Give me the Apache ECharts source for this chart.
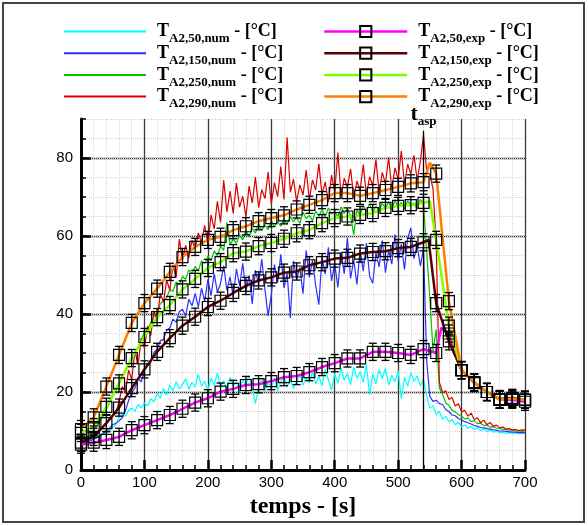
<!DOCTYPE html>
<html><head><meta charset="utf-8">
<script src="https://cdn.jsdelivr.net/npm/echarts@6/dist/echarts.min.js"></script>
<style>html,body{margin:0;padding:0;background:#fff}#c{width:588px;height:526px}</style>
</head><body><div id="c"></div>
<script>
// ---------- DATA ----------
const TIME_NUM = [0,5,10,15,20,25,30,35,40,45,50,55,60,65,70,75,80,85,90,95,
100,105,110,115,120,125,130,135,140,145,150,155,160,165,170,175,180,185,190,195,
200,205,210,215,220,225,230,235,240,245,250,255,260,265,270,275,280,285,290,295,
300,305,310,315,320,325,330,335,340,345,350,355,360,365,370,375,380,385,390,395,
400,405,410,415,420,425,430,435,440,445,450,455,460,465,470,475,480,485,490,495,
500,505,510,515,520,525,530,535,540,545,550,555,560,565,570,575,580,585,590,595,
600,605,610,615,620,625,630,635,640,645,650,655,660,665,670,675,680,685,690,695,700];

const T50_NUM = [7.0,7.1,7.3,7.6,8.0,8.3,8.7,9.1,9.6,10.2,
10.9,11.6,13.5,14.3,13.8,15.2,15.9,15.1,16.8,15.9,
17.2,16.4,18.3,17.5,19.6,18.4,20.9,19.2,21.8,20.3,
22.6,20.8,21.9,23.4,20.7,22.5,21.3,24.6,21.5,22.8,
20.4,23.6,21.7,24.9,21.2,22.9,20.6,23.8,21.5,22.6,
19.8,23.1,21.9,24.2,20.8,17.0,21.4,23.5,20.2,22.3,
21.0,23.7,20.3,22.6,24.1,21.3,23.2,20.9,22.8,24.5,
21.7,23.6,22.4,25.3,22.1,24.0,21.6,25.8,23.2,20.5,
24.7,22.3,26.1,23.0,24.8,21.9,26.4,23.5,25.2,22.4,
27.0,19.3,24.6,22.1,25.7,23.4,26.2,21.8,24.3,22.6,
25.4,18.3,23.8,21.5,24.9,22.7,24.1,21.6,23.2,19.0,
15.8,16.5,14.2,15.1,13.0,13.8,12.3,12.9,11.6,12.2,
11.1,11.5,10.7,11.2,10.4,10.8,10.1,10.5,9.9,10.2,
9.7,9.9,9.6,9.7,9.4,9.6,9.3,9.5,9.3,9.4,
9.4];

const T150_NUM = [7.0,7.1,7.3,7.5,7.9,8.3,8.8,9.4,10.1,10.8,
11.6,12.0,12.6,13.4,15.2,17.8,19.9,21.0,23.4,22.6,
25.5,26.8,27.6,30.2,30.9,33.1,33.5,35.8,36.4,38.7,
37.9,40.6,41.2,39.5,43.8,42.1,45.3,41.8,46.6,43.2,
48.9,44.7,50.3,45.6,47.8,52.4,46.1,49.5,44.3,51.6,
47.2,53.0,45.8,49.9,42.6,51.2,47.5,54.1,46.3,39.5,
44.9,52.7,48.1,55.3,46.7,50.4,39.0,53.6,48.8,51.9,
45.2,56.3,49.4,53.8,47.3,42.4,54.6,50.2,57.1,48.5,
52.9,46.8,55.7,50.3,59.6,49.1,53.8,47.6,56.4,51.0,
58.2,49.7,47.9,55.8,52.1,58.9,50.6,56.3,52.8,60.4,
53.5,57.9,51.4,59.3,62.1,54.2,57.6,52.3,56.8,28.0,
18.8,17.6,17.9,17.0,16.8,15.5,15.0,14.1,13.9,13.2,
12.9,12.4,12.1,11.8,11.4,11.2,10.9,10.8,10.6,10.5,
10.3,10.2,10.0,10.0,9.9,9.8,9.7,9.7,9.6,9.6,
9.5];

const T250_NUM = [8.0,8.2,8.6,9.3,10.2,11.3,12.6,14.0,15.6,17.2,
18.9,20.5,22.3,23.8,25.6,26.9,28.7,30.1,31.4,33.6,
35.2,36.0,37.9,39.3,40.2,42.6,43.5,44.1,46.3,45.8,
48.2,47.5,49.6,48.9,51.3,50.4,52.2,51.0,53.7,52.9,
54.8,53.6,56.2,54.9,57.4,56.3,63.5,57.8,59.2,58.1,
60.3,59.0,61.4,59.8,62.0,60.7,63.2,61.5,62.8,61.6,
64.0,62.3,63.7,62.5,64.4,63.1,65.0,63.6,64.8,63.2,
66.1,64.5,65.3,63.9,66.4,65.0,66.8,64.7,67.2,65.6,
66.3,64.9,67.5,65.8,66.9,65.2,60.3,66.7,65.4,67.8,
66.2,68.3,66.0,67.6,66.5,68.4,67.1,68.8,66.7,69.2,
67.4,68.6,67.0,69.0,67.8,68.5,66.9,69.4,68.2,56.0,
44.0,30.5,36.0,21.0,19.5,17.2,16.6,15.3,14.9,14.2,
13.8,13.1,13.3,12.4,12.6,11.9,12.0,11.4,11.5,11.0,
11.1,10.7,10.7,10.4,10.4,10.2,10.2,10.0,10.1,9.9,
10.0];

const T290_NUM = [8.0,8.1,8.3,8.6,9.0,9.6,10.4,11.3,12.2,13.0,
13.8,14.6,17.5,21.4,19.8,25.6,23.2,30.4,27.1,33.8,
31.2,36.9,34.5,40.8,38.4,45.3,43.0,48.7,46.1,52.6,
49.3,59.2,53.8,57.6,54.4,58.9,56.7,60.8,58.3,62.7,
57.9,65.4,61.8,68.9,63.5,74.3,66.2,71.5,65.8,73.6,
67.4,70.2,64.9,72.8,68.5,75.1,67.3,71.9,69.6,76.4,
68.2,73.7,70.1,77.8,69.4,85.3,71.2,74.6,68.8,73.1,
70.5,76.9,69.3,74.4,71.8,78.5,70.6,73.9,68.7,75.6,
71.3,81.4,70.2,74.8,72.5,77.2,69.9,74.1,71.6,78.3,
70.4,75.2,72.9,79.6,71.1,76.3,73.4,80.2,72.0,77.5,
74.6,81.8,73.2,78.4,75.9,80.7,74.3,79.1,86.0,76.5,
75.8,72.0,58.0,22.5,19.8,20.3,18.1,18.6,16.4,17.0,
14.9,15.3,13.8,14.6,12.9,13.4,12.1,12.8,11.6,12.2,
11.2,11.5,10.8,11.0,10.5,10.6,10.3,10.4,10.1,10.3,
10.2];

const TIME_EXP = [0,20,40,60,80,100,120,140,160,180,200,220,240,260,280,300,320,340,
360,380,400,420,440,460,480,500,520,540,560,580,600,620,640,660,680,700];
const T50_EXP = [6.5,7.0,7.7,8.5,10.2,11.5,12.8,14.1,15.7,17.3,18.4,20.1,20.8,21.8,22.0,22.8,23.8,24.1,
25.1,26.4,27.4,28.6,28.6,30.3,30.3,30.0,29.5,31.0,30.0,35.0,25.6,22.3,20.0,18.0,18.0,17.5];
const T150_EXP = [7.0,8.5,12.0,16.0,21.0,25.8,30.3,33.8,37.0,39.3,41.8,43.4,45.4,47.2,48.6,49.4,50.6,50.9,
52.5,53.3,54.2,54.4,55.5,55.9,56.1,56.9,57.2,58.4,42.8,33.0,25.6,22.5,20.0,18.2,18.5,18.0];
const T250_EXP = [9.5,11.0,16.2,22.2,28.7,34.1,39.2,42.3,46.3,49.0,51.8,53.3,55.6,56.0,57.4,58.2,59.3,60.7,
61.5,63.3,64.6,65.0,65.4,65.9,67.2,67.7,67.9,68.5,59.0,37.0,25.6,22.5,20.0,18.0,18.3,18.0];
const T290_EXP = [10.5,13.5,21.4,29.5,37.7,42.8,46.5,50.8,54.6,57.2,59.0,59.8,61.5,62.5,63.8,64.6,65.3,66.8,
68.0,69.2,71.0,71.0,70.3,71.0,71.8,72.6,73.5,73.8,76.0,43.3,25.6,22.5,20.0,18.0,18.3,18.0];
// extra points of the experimental curves between two markers (peak before the drop)
const KNOT_T = [568, 548, 550, 550];
const KNOT_V = [36.5, 59.0, 68.9, 78.8];
const EXP_ERR = 2.2;

const NUM_NAMES = ['A2,50,num','A2,150,num','A2,250,num','A2,290,num'];
const EXP_NAMES = ['A2,50,exp','A2,150,exp','A2,250,exp','A2,290,exp'];
const T_ASP = 540;
const T_ASP_TOP = 87;
const X_TICKS = [0,100,200,300,400,500,600,700];
const Y_TICKS = [0,20,40,60,80];

// ---------- STYLE ----------
const NUM_COLORS = ['#00ffff','#2e2eff','#00c400','#d80000'];
const EXP_COLORS = ['#ff00ff','#5a0000','#80ff00','#ff8000'];
const SERIF = '"Liberation Serif","DejaVu Serif",serif';
const SANS = '"Liberation Sans",Arial,sans-serif';

const NUM_VALUES = [T50_NUM, T150_NUM, T250_NUM, T290_NUM];
const EXP_VALUES = [T50_EXP, T150_EXP, T250_EXP, T290_EXP];

const series = [];
NUM_VALUES.forEach((vals, i) => {
  series.push({
    name: NUM_NAMES[i], type: 'line', symbol: 'none', showSymbol: false, z: 2,
    lineStyle: { color: NUM_COLORS[i], width: 1.2 },
    itemStyle: { color: NUM_COLORS[i] },
    data: TIME_NUM.map((t, k) => [t, vals[k]]),
    animation: false
  });
});
EXP_VALUES.forEach((vals, i) => {
  const pts = TIME_EXP.map((t, k) => ({ value: [t, vals[k]] }));
  pts.push({ value: [KNOT_T[i], KNOT_V[i]], symbol: 'none' });
  pts.sort((a, b) => a.value[0] - b.value[0]);
  series.push({
    name: EXP_NAMES[i], type: 'line', symbol: 'rect', symbolSize: 11, showAllSymbol: true, z: 3,
    lineStyle: { color: EXP_COLORS[i], width: 2.5 },
    itemStyle: { color: 'rgba(0,0,0,0)', borderColor: '#000', borderWidth: 1.2 },
    data: pts, animation: false
  });
});
const errData = [];
EXP_VALUES.forEach(vals => TIME_EXP.forEach((t, k) => errData.push([t, vals[k], vals[k] - EXP_ERR, vals[k] + EXP_ERR])));
series.push({
  type: 'custom', z: 4, silent: true, animation: false,
  encode: { x: 0, y: 1 },
  data: errData,
  renderItem(params, api) {
    const lo = api.coord([api.value(0), api.value(2)]);
    const hi = api.coord([api.value(0), api.value(3)]);
    const w = 4, st = { stroke: '#000', lineWidth: 1.3 };
    return { type: 'group', children: [
      { type: 'line', shape: { x1: lo[0], y1: lo[1], x2: hi[0], y2: hi[1] }, style: st },
      { type: 'line', shape: { x1: lo[0] - w, y1: lo[1], x2: lo[0] + w, y2: lo[1] }, style: st },
      { type: 'line', shape: { x1: hi[0] - w, y1: hi[1], x2: hi[0] + w, y2: hi[1] }, style: st }
    ]};
  }
});
// t_asp marker line
series[3].markLine = {
  silent: true, symbol: ['none', 'none'], animation: false,
  lineStyle: { color: '#000', width: 1.3, type: 'solid' },
  label: {
    show: true, position: 'end', distance: 3,
    formatter: '{t|t}{s|asp}',
    rich: {
      t: { fontFamily: SERIF, fontWeight: 'bold', fontSize: 22, lineHeight: 26, color: '#000' },
      s: { fontFamily: SERIF, fontWeight: 'bold', fontSize: 13, lineHeight: 13, verticalAlign: 'bottom', color: '#000' }
    }
  },
  data: [[{ coord: [T_ASP, 0] }, { coord: [T_ASP, T_ASP_TOP] }]]
};

const richLegend = {
  T: { fontFamily: SERIF, fontWeight: 'bold', fontSize: 18, lineHeight: 28, color: '#000', padding: [0, 0, 0, 6] },
  s: { fontFamily: SERIF, fontWeight: 'bold', fontSize: 13, lineHeight: 13, verticalAlign: 'bottom', color: '#000' },
  n: { fontFamily: SERIF, fontWeight: 'bold', fontSize: 18, lineHeight: 28, color: '#000' }
};
const legendFmt = name => '{T|T}{s|' + name + '}{n| - [°C]}';

const option = {
  backgroundColor: '#fff',
  animation: false,
  grid: { left: 81, right: 63, top: 119, bottom: 56 },
  legend: [
    { data: NUM_NAMES, orient: 'vertical', left: 64, top: 22.5, padding: 0, itemGap: -1.3,
      itemWidth: 82, itemHeight: 14, icon: 'path://M0,0H82V2H0Z',
      formatter: legendFmt, textStyle: { rich: richLegend }, selectedMode: false },
    { data: EXP_NAMES, orient: 'vertical', left: 323, top: 22.5, padding: 0, itemGap: -1.3,
      itemWidth: 83, itemHeight: 14, formatter: legendFmt, textStyle: { rich: richLegend },
      lineStyle: { width: 2.5 }, selectedMode: false }
  ],
  xAxis: {
    type: 'value', min: 0, max: 700, interval: 100,
    name: 'temps - [s]', nameLocation: 'middle', nameGap: 6,
    nameTextStyle: { fontFamily: SERIF, fontWeight: 'bold', fontSize: 24, color: '#000' },
    axisLine: { lineStyle: { color: '#000', width: 3 } },
    axisTick: { inside: true, length: 10, lineStyle: { color: '#000', width: 2.5 } },
    minorTick: { show: true, splitNumber: 5, length: 5, lineStyle: { color: '#000', width: 1.5 } },
    splitLine: { show: true, lineStyle: { color: '#3a3a3a', width: 1.3 } },
    minorSplitLine: { show: true, lineStyle: { color: '#d4d4d4', width: 1, type: 'dotted' } },
    axisLabel: { fontFamily: SANS, fontSize: 15, color: '#000', margin: 5, customValues: X_TICKS }
  },
  yAxis: [
    {
      type: 'value', min: 0, max: 90, interval: 20, position: 'left',
      axisLine: { show: true, lineStyle: { color: '#000', width: 3 } },
      axisTick: { show: true, inside: true, length: 10, lineStyle: { color: '#000', width: 2.5 }, customValues: Y_TICKS },
      axisLabel: { fontFamily: SANS, fontSize: 15, color: '#000', margin: 8, customValues: Y_TICKS },
      splitLine: { show: true, lineStyle: { color: '#3a3a3a', width: 1.3 } }
    },
    {
      type: 'value', min: 0, max: 90, interval: 5, position: 'left',
      axisLine: { show: false },
      axisTick: { show: true, inside: true, length: 5, lineStyle: { color: '#000', width: 1.5 } },
      axisLabel: { show: false },
      splitLine: { show: true, lineStyle: { color: '#d4d4d4', width: 1, type: 'dotted' } }
    }
  ],
  graphic: [
    { type: 'rect', silent: true, z: -10, shape: { x: 3, y: 3, width: 581, height: 519 },
      style: { fill: 'rgba(0,0,0,0)', stroke: '#444', lineWidth: 2 } }
  ],
  series
};
const chart = echarts.init(document.getElementById('c'), null, { renderer: 'canvas' });
chart.setOption(option);
</script>
</body></html>
